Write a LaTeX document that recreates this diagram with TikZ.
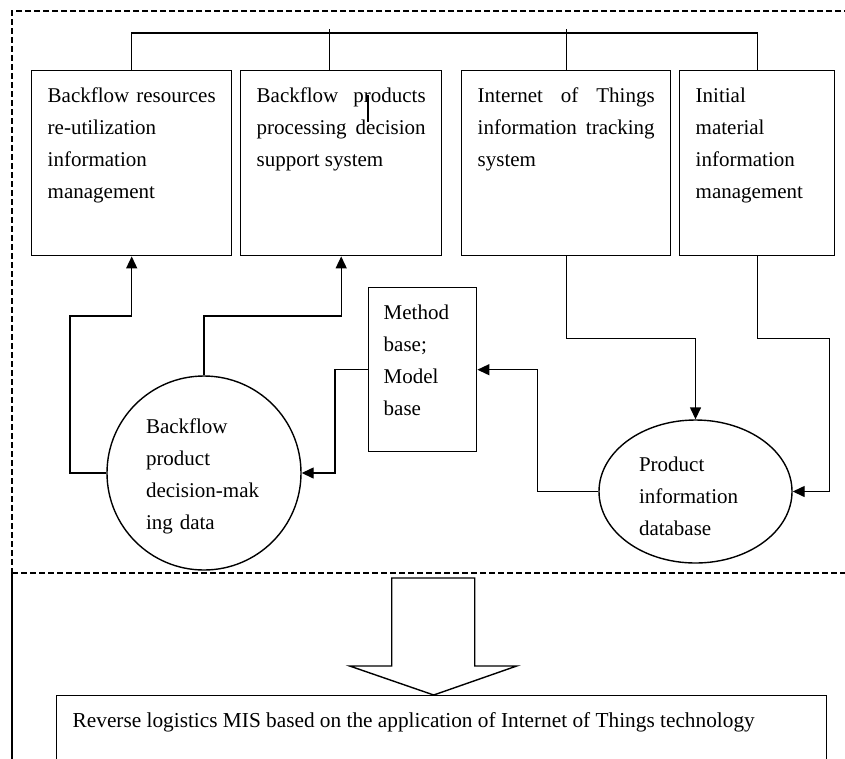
\documentclass[tikz,border=0pt]{standalone}
\usepackage{fontspec}
\setmainfont{Liberation Serif}
\usetikzlibrary{shapes,arrows.meta,positioning}
\hyphenpenalty=10000
\exhyphenpenalty=10000
\tolerance=10000

\begin{document}
\begin{tikzpicture}[x=1pt, y=-1pt, line width=1.4pt,
  every node/.style={font=\fontsize{21}{32}\selectfont},
  box/.style={draw, rectangle, align=justify, inner xsep=16pt, inner ysep=16pt, text height=16pt, anchor=north west},
  flow/.style={-{Triangle[length=12pt,width=11pt]}},
  frame/.style={dash pattern=on 6pt off 3pt}]

\useasboundingbox (0,0) rectangle (845,758);

% four system boxes
\node[box, text width=168pt, text depth=137pt] (BR) at (31,70) {Backflow resources re-utilization information management};
\node[box, text width=169pt, text depth=137pt] (BP) at (240,70) {Backflow products processing decision support system};
\node[box, text width=177pt, text depth=137pt] (IT) at (461,70) {Internet of Things information tracking system};
\node[box, text width=123pt, text depth=137pt] (IM) at (679,70) {Initial\\ material\\ information\\ management};
%============
\node[box, text width=78pt, text depth=116pt, inner xsep=15pt] (MB) at (368,287) {Method\\ base;\\ Model\\ base};
\node[draw, circle, minimum size=194pt, inner sep=0pt, align=left, text width=116pt, text height=20pt, text depth=100pt] (DD) at (204,473) {Backflow\\ product\\ decision-mak\\ ing data};
\node[draw, ellipse, minimum width=193pt, minimum height=143pt, inner sep=0pt, align=left, text width=113pt, text height=20pt, text depth=61pt] (PD) at (695.5,491.5) {Product\\ information\\ database};
%============
\node[box, text width=738pt, text depth=60pt, font=\fontsize{21.3}{32}\selectfont] (MIS) at (56,695) {Reverse logistics MIS based on the application of Internet of Things technology};

% top bus
\draw (BR.north) -- ++(0,-37) -| (IM.north);
\draw ([xshift=-11.5pt]BP.north) -- ++(0,-41);
\draw (IT.north) -- ++(0,-41);
\draw (368,95) -- (368,122);

% flows
\draw[flow] (DD.west) -| (70,316) -| (BR.south);
\draw[flow] (DD.north) -- (DD.north |- 0,316) -| (BP.south);
\draw[flow] (MB.west) -- ++(-33,0) |- (DD.east);
\draw[flow] (PD.west) -- ++(-61,0) |- (MB.east);
\draw[flow] (IT.south) -- ++(0,82) -| (PD.north);
\draw[flow] (IM.south) -- ++(0,82) -- ++(72.5,0) |- (PD.east);

% frame
\draw[frame] (850,11) -| (12,573);
\draw[frame] (12,573) -- (850,573);
\draw (12,573) -- (12,760);

% big arrow
\coordinate (BA) at ([xshift=-8pt]MIS.north);
\draw (BA) -- ++(83,-29) -- ++(-42,0) -- ++(0,-88) -- ++(-83,0) -- ++(0,88) -- ++(-42,0) -- cycle;

\end{tikzpicture}
\end{document}
